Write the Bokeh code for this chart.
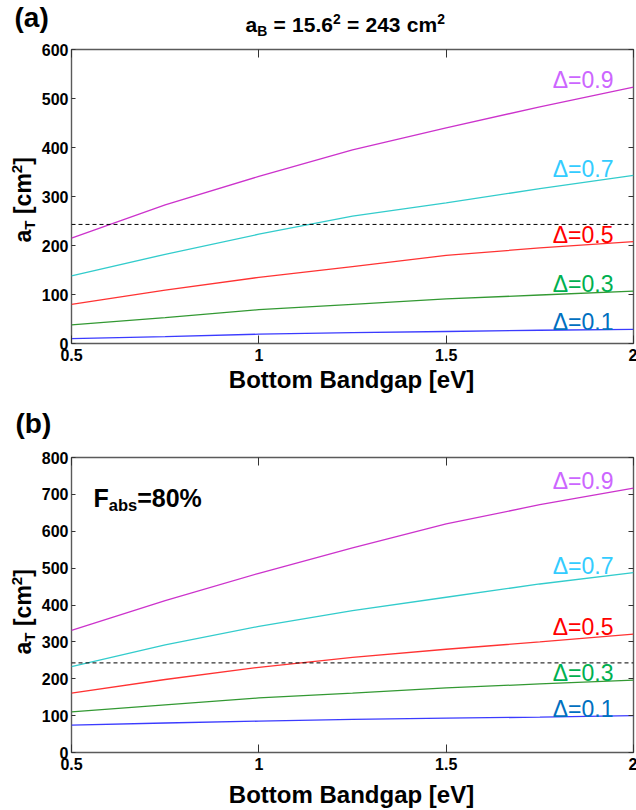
from math import pi
from bokeh.plotting import figure
from bokeh.models import Label, Span, FixedTicker, LinearAxis, Range1d, CustomJSTickFormatter
from bokeh.layouts import column, row
from bokeh.embed import file_html
from bokeh.resources import INLINE

# ---------------- data ----------------
bandgap = [0.5, 0.75, 1.0, 1.25, 1.5, 1.75, 2.0]
delta_labels = ["Δ=0.1", "Δ=0.3", "Δ=0.5", "Δ=0.7", "Δ=0.9"]

# panel (a): a_B = 243 cm^2
a_T_a_d01 = [10, 14, 19, 22, 24.5, 27, 29]
a_T_a_d03 = [38, 53, 69, 80, 91, 99, 107]
a_T_a_d05 = [80, 109, 135, 157, 180, 195, 208]
a_T_a_d07 = [138, 182, 223, 260, 287, 316, 343]
a_T_a_d09 = [215, 283, 341, 395, 440, 483, 523]

# panel (b): F_abs = 80%
a_T_b_d01 = [74, 80, 85, 90, 93, 96, 100]
a_T_b_d03 = [110, 129, 148, 161, 175, 186, 196]
a_T_b_d05 = [161, 198, 231, 258, 280, 300, 321]
a_T_b_d07 = [233, 292, 342, 385, 421, 457, 488]
a_T_b_d09 = [331, 412, 486, 555, 620, 672, 717]

a_B = 243
x_ticks = [0.5, 1.0, 1.5, 2.0]
y_ticks_a = [0, 100, 200, 300, 400, 500, 600]
y_ticks_b = [0, 100, 200, 300, 400, 500, 600, 700, 800]

# ---------------- styles ----------------
FONT = "Liberation Sans"
line_colors = ["#3b3bff", "#339933", "#ff3333", "#33cccc", "#cc33cc"]
label_colors = ["#0070c0", "#00b050", "#ff0000", "#33ccff", "#cc66ff"]
BL = 0.34   # baseline correction (fraction of font size)

W = {'a': .556, 'b': .611, 's': .556, 'c': .556, 'm': .889, 'B': .722, 'T': .611,
     'F': .611, '%': .889, '[': .333, ']': .333, ' ': .278, '=': .584, '.': .278}


def em(s):
    return sum(W.get(ch, .556) for ch in s)


def piece_style(mode, size):
    if mode == "n":
        return size, 0.0
    if mode == "sub":
        return size * 0.66, -0.16 * size
    return size * 0.66, 0.38 * size


def make_label(x, y, dx, dy, txt, fs, angle=0.0):
    return Label(x=x, y=y, x_offset=dx, y_offset=dy, angle=angle, text=txt,
                 text_font=FONT, text_font_style="bold", text_font_size=f"{fs:.1f}px",
                 text_baseline="alphabetic", text_align="left", text_color="black")


def rich(p, pieces, x, y, dx0, dy0, size, vertical=False, space=0.278):
    cur = 0.0
    for txt, mode in pieces:
        fs, sh = piece_style(mode, size)
        sh += BL * fs
        core = txt.strip(" ")
        lead = len(txt) - len(txt.lstrip(" "))
        trail = len(txt) - len(txt.rstrip(" "))
        cur += lead * space * size
        if vertical:
            p.add_layout(make_label(x, y, dx0 - sh, dy0 + cur, core, fs, pi / 2))
        else:
            p.add_layout(make_label(x, y, dx0 + cur, dy0 + sh, core, fs))
        cur += em(core) * fs + trail * space * size


def strip(w, h):
    s = figure(width=w, height=h, x_range=Range1d(0, w), y_range=Range1d(0, h),
               min_border=0, output_backend="svg", toolbar_location=None,
               x_axis_type=None, y_axis_type=None, title=None)
    s.xgrid.visible = False
    s.ygrid.visible = False
    s.outline_line_color = None
    s.background_fill_color = "white"
    s.border_fill_color = "white"
    return s


def style_axis(ax, ticks, show, standoff, tick_in):
    ax.ticker = FixedTicker(ticks=ticks)
    ax.axis_line_color = None
    ax.major_tick_in = tick_in
    ax.major_tick_out = 0
    ax.major_tick_line_color = "#333333"
    ax.minor_tick_line_color = None
    ax.major_label_text_font = FONT
    ax.major_label_text_font_style = "bold"
    ax.major_label_text_color = "black"
    if show:
        ax.formatter = CustomJSTickFormatter(code="return String(tick);")
        ax.major_label_text_font_size = "16px"
        ax.major_label_standoff = standoff
    else:
        ax.formatter = CustomJSTickFormatter(code="return '';")
        ax.major_label_text_font_size = "1px"
        ax.major_label_standoff = 0


def make_main(series, y_max, y_ticks, frame_h):
    p = figure(x_range=Range1d(0.5, 2.0), y_range=Range1d(0, y_max),
               frame_width=562, frame_height=frame_h,
               min_border_left=32, min_border_right=4,
               min_border_top=10, min_border_bottom=24,
               output_backend="svg", toolbar_location=None, title=None)
    p.xgrid.visible = False
    p.ygrid.visible = False
    p.outline_line_color = "#5a5a5a"
    p.outline_line_width = 1.4
    p.background_fill_color = "white"
    p.border_fill_color = "white"

    style_axis(p.xaxis[0], x_ticks, True, 5, 8)
    style_axis(p.yaxis[0], y_ticks, True, 3, 4)
    top_ax = LinearAxis()
    style_axis(top_ax, x_ticks, False, 0, 8)
    right_ax = LinearAxis()
    style_axis(right_ax, y_ticks, False, 0, 5)
    p.add_layout(top_ax, "above")
    p.add_layout(right_ax, "right")

    p.add_layout(Span(location=a_B, dimension="width", line_color="black",
                      line_dash="4 3", line_width=1))

    for s, lc, tc, txt in zip(series, line_colors, label_colors, delta_labels):
        p.line(bandgap, s, line_color=lc, line_width=1.3)
        p.add_layout(Label(x=bandgap[-1], y=s[-1], x_offset=-20, y_offset=-1 + BL * 23,
                           text=txt, text_align="right", text_baseline="alphabetic",
                           text_font=FONT, text_font_size="23px", text_color=tc))
    return p


def xtitle(s, baseline):
    s.add_layout(Label(x=351, y=baseline, y_offset=BL * 24, text="Bottom Bandgap [eV]",
                       text_align="center", text_baseline="alphabetic",
                       text_font=FONT, text_font_style="bold", text_font_size="24px",
                       text_color="black"))


def tag(s, txt, x, y):
    s.add_layout(Label(x=x, y=y, y_offset=BL * 28, text=txt, text_font=FONT,
                       text_font_style="bold", text_font_size="28px",
                       text_baseline="alphabetic", text_color="black"))


ylab = [("a", "n"), ("T", "sub"), (" [cm", "n"), ("2", "sup"), ("]", "n")]
title_a = [("a", "n"), ("B", "sub"), (" = ", "n"), ("15.6", "n"), ("2", "sup"),
           (" = ", "n"), ("243 ", "n"), ("cm", "n"), ("2", "sup")]

# ---------------- panel (a) ----------------
top_a = strip(636, 39)
tag(top_a, "(a)", 14, 12)
rich(top_a, title_a, 0, 0, 245, 7.5, 21, space=0.3)
main_a = make_main([a_T_a_d01, a_T_a_d03, a_T_a_d05, a_T_a_d07, a_T_a_d09],
                   600, y_ticks_a, 294)
left_a = strip(38, 10 + 294 + 24)
rich(left_a, ylab, 0, 0, 30, 101, 23, vertical=True)
bot_a = strip(636, 405 - 39 - 10 - 294 - 24)
xtitle(bot_a, 18)

# ---------------- panel (b) ----------------
top_b = strip(636, 42)
tag(top_b, "(b)", 15, 14)
main_b = make_main([a_T_b_d01, a_T_b_d03, a_T_b_d05, a_T_b_d07, a_T_b_d09],
                   800, y_ticks_b, 295)
rich(main_b, [("F", "n"), ("abs", "sub"), ("=80%", "n")], 0.5, 800, 22, -49, 25)
left_b = strip(38, 10 + 295 + 24)
rich(left_b, ylab, 0, 0, 30, 98, 23, vertical=True)
bot_b = strip(636, 405 - 42 - 10 - 295 - 24)
xtitle(bot_b, 8)

layout = column(top_a, row(left_a, main_a, spacing=0), bot_a,
                top_b, row(left_b, main_b, spacing=0), bot_b, spacing=0)
open("out.html", "w").write(file_html(layout, INLINE))
